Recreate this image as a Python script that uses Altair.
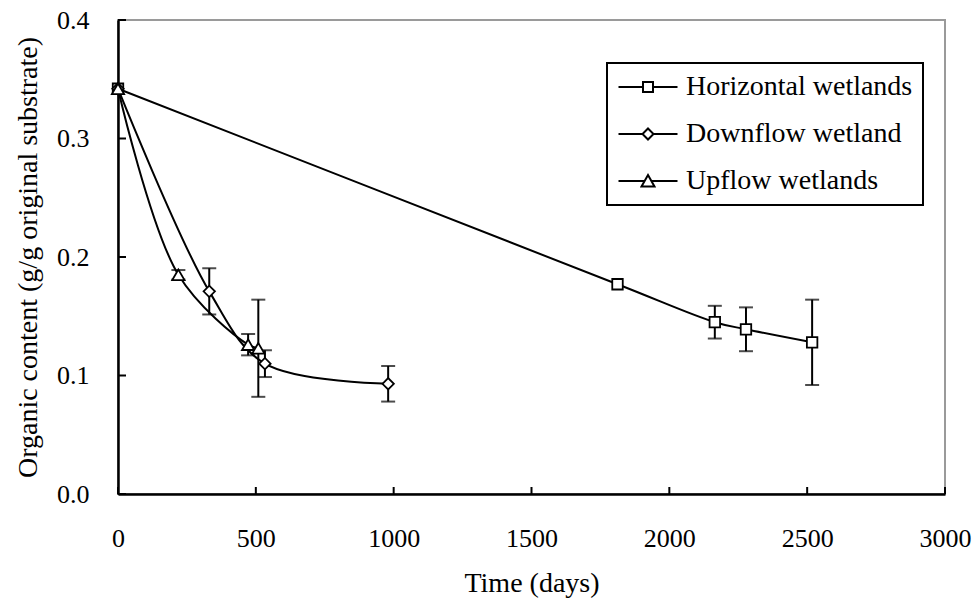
import altair as alt
import pandas as pd

# ---------------- data ----------------
series_names = ["Horizontal wetlands", "Downflow wetland", "Upflow wetlands"]

h_days = [0, 1812, 2165, 2278, 2518]
h_vals = [0.342, 0.177, 0.145, 0.139, 0.128]
h_err = [0.0, 0.0, 0.0138, 0.0185, 0.036]

d_days = [0, 331, 533, 980]
d_vals = [0.342, 0.171, 0.110, 0.093]
d_err = [0.0, 0.0195, 0.0113, 0.015]

u_days = [0, 219, 472, 509]
u_vals = [0.342, 0.185, 0.126, 0.123]
u_err = [0.0, 0.004, 0.009, 0.041]

x_ticks = [0, 500, 1000, 1500, 2000, 2500, 3000]
y_ticks = [0.0, 0.1, 0.2, 0.3, 0.4]

marker_shapes = ["square", "diamond", "triangle-up"]
marker_sizes = [110, 150, 140]
legend_symbols = [
    "M-5.9,0H-1M1,0H5.9M-1,-1H1V1H-1Z",
    "M-5.9,0H-1.1M1.1,0H5.9M0,-1.1L1.1,0L0,1.1L-1.1,0Z",
    "M-5.9,0H-0.68M0.68,0H5.9M0,-1.2L1.3,1.1H-1.3Z",
]

# ---------------- tables ----------------
rows = []
for name, days, vals, errs in [
    (series_names[0], h_days, h_vals, h_err),
    (series_names[1], d_days, d_vals, d_err),
    (series_names[2], u_days, u_vals, u_err),
]:
    for d, v, e in zip(days, vals, errs):
        rows.append({"series": name, "day": d, "val": v, "err": e,
                     "lo": v - e, "hi": v + e})
df = pd.DataFrame(rows)
df_err = df[df["err"] > 0]
xt = pd.DataFrame({"day": x_ticks})
yt = pd.DataFrame({"val": y_ticks})

W, H = 827, 474
FONT = "Liberation Serif"
X_TITLE = "Time (days)"
Y_TITLE = "Organic content (g/g original substrate)"

xscale = alt.Scale(domain=[0, 3000], nice=False, zero=False)
yscale = alt.Scale(domain=[0, 0.4], nice=False)

x_axis = alt.Axis(values=x_ticks, format="d", ticks=False, tickSize=0, grid=False,
                  domainColor="black", domainWidth=2.5,
                  labelFont=FONT, labelFontSize=26, labelColor="black",
                  labelPadding=44, labelBaseline="middle", labelFlush=False,
                  labelOverlap=False,
                  titleFont=FONT, titleFontSize=28, titleFontWeight="normal",
                  titleColor="black", titleX=W / 2, titleY=89,
                  titleBaseline="middle", titleAlign="center")
y_axis = alt.Axis(values=y_ticks, format=".1f", ticks=False, tickSize=0, grid=False,
                  domainColor="black", domainWidth=2.5,
                  labelFont=FONT, labelFontSize=26, labelColor="black",
                  labelPadding=29, labelFlush=False, labelOverlap=False,
                  titleFont=FONT, titleFontSize=28, titleFontWeight="normal",
                  titleColor="black", titleX=-89.5, titleY=H / 2,
                  titleBaseline="middle", titleAlign="center")


def XE(field="day"):
    return alt.X(f"{field}:Q", scale=xscale, axis=x_axis, title=X_TITLE)


def YE(field="val"):
    return alt.Y(f"{field}:Q", scale=yscale, axis=y_axis, title=Y_TITLE)


lines = alt.Chart(df).mark_line(color="black", strokeWidth=2,
                                interpolate="catmull-rom").encode(
    x=XE(), y=YE(), detail="series:N")

err_rules = alt.Chart(df_err).mark_rule(color="black", strokeWidth=2).encode(
    x=XE(), y=YE("lo"), y2="hi:Q")
cap_lo = alt.Chart(df_err).mark_tick(color="black", orient="horizontal",
                                     size=14, thickness=2).encode(
    x=XE(), y=YE("lo"))
cap_hi = alt.Chart(df_err).mark_tick(color="black", orient="horizontal",
                                     size=14, thickness=2).encode(
    x=XE(), y=YE("hi"))

points = alt.Chart(df).mark_point(filled=True, fill="white", stroke="black",
                                  strokeWidth=1.8, opacity=1).encode(
    x=XE(), y=YE(),
    shape=alt.Shape("series:N", scale=alt.Scale(domain=series_names,
                                                range=marker_shapes), legend=None),
    size=alt.Size("series:N", scale=alt.Scale(domain=series_names,
                                              range=marker_sizes), legend=None),
)

legend_layer = alt.Chart(df).mark_point(filled=False, color="black",
                                        opacity=0).encode(
    x=XE(), y=YE(),
    shape=alt.Shape("series:N",
                    scale=alt.Scale(domain=series_names, range=legend_symbols),
                    title=None,
                    legend=alt.Legend(orient="none", legendX=489, legendY=43,
                                      fillColor="white", strokeColor="black",
                                      padding=10, rowPadding=19,
                                      labelFont=FONT, labelFontSize=28,
                                      labelColor="black", labelLimit=400,
                                      symbolSize=100, symbolStrokeWidth=2,
                                      symbolStrokeColor="black",
                                      symbolFillColor="white", symbolOpacity=1,
                                      symbolOffset=17, labelOffset=24)),
)

xtick_rules = alt.Chart(xt).mark_rule(color="black", strokeWidth=2).encode(
    x=XE(), y=alt.value(H), y2=alt.value(H - 7))
ytick_rules = alt.Chart(yt).mark_rule(color="black", strokeWidth=2).encode(
    y=YE(), x=alt.value(0), x2=alt.value(8))

chart = alt.layer(
    lines, err_rules, cap_lo, cap_hi, points, legend_layer, xtick_rules, ytick_rules
).resolve_scale(shape="independent", size="independent").properties(
    width=W, height=H,
    autosize=alt.AutoSizeParams(type="none"),
    padding={"left": 118, "top": 20, "right": 27, "bottom": 109},
    background="white",
).configure_view(stroke="#9a9a9a", strokeWidth=2).configure_legend(strokeWidth=2)

chart.save("out.html", embed_options={"renderer": "svg", "actions": False})
